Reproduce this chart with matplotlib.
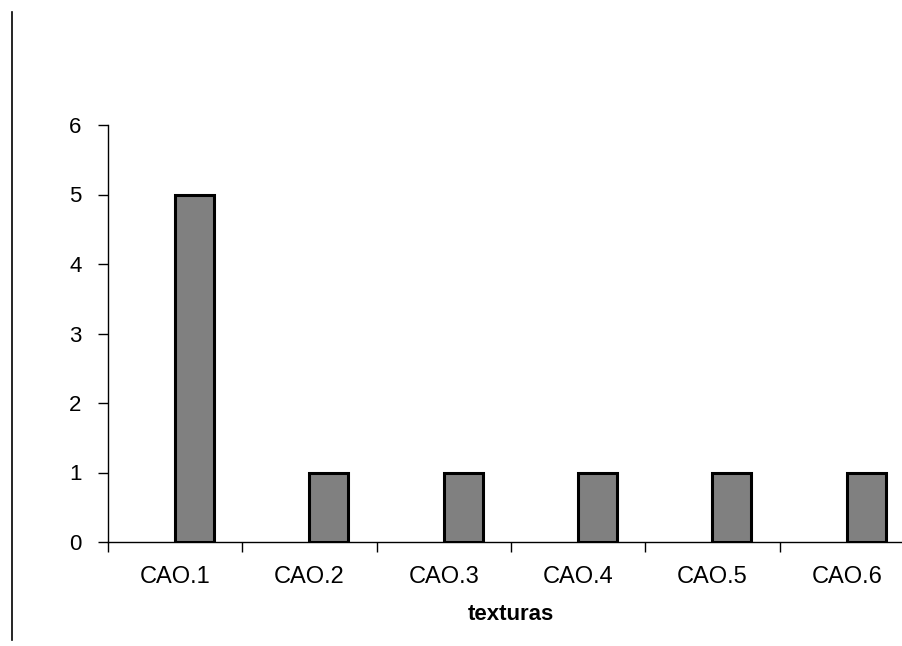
import matplotlib
matplotlib.use("Agg")
import matplotlib.pyplot as plt
from matplotlib.lines import Line2D
import numpy as np

categories = ["CAO.1", "CAO.2", "CAO.3", "CAO.4", "CAO.5", "CAO.6"]
values = [5, 1, 1, 1, 1, 1]
yticks = [0, 1, 2, 3, 4, 5, 6]

plt.rcParams['font.family'] = ['Liberation Sans', 'DejaVu Sans']

W, H = 903, 646
fig = plt.figure(figsize=(W / 100, H / 100), dpi=100)
left, right, bottom, top = 108, 914, 542, 125
ax = fig.add_axes([left / W, (H - bottom) / H, (right - left) / W, (bottom - top) / H])

x = np.arange(len(categories))
ax.bar(x, values, width=0.29, align='edge', color='#808080', edgecolor='black', linewidth=2.2, zorder=3)

ax.set_xlim(-0.5, len(categories) - 0.5)
ax.set_ylim(0, 6)
ax.set_yticks(yticks)
ax.set_xticks(x)
ax.set_xticklabels(categories)
ax.set_xticks(np.arange(len(categories) + 1) - 0.5, minor=True)
ax.tick_params(axis='x', which='major', length=0, pad=17, labelsize=17)
ax.tick_params(axis='x', which='minor', length=7, width=1, direction='out')
ax.tick_params(axis='y', length=7, width=1, direction='out', pad=12, labelsize=16)

for s in ['top', 'right']:
    ax.spines[s].set_visible(False)
ax.spines['left'].set_linewidth(1)
ax.spines['bottom'].set_linewidth(1)

ax.set_xlabel("texturas", fontsize=16, fontweight='bold', labelpad=12)

fig.add_artist(Line2D([12 / W, 12 / W], [1 - 12 / H, 1 - 640 / H], color='black', linewidth=1.2))

fig.savefig("out.png", dpi=100)
